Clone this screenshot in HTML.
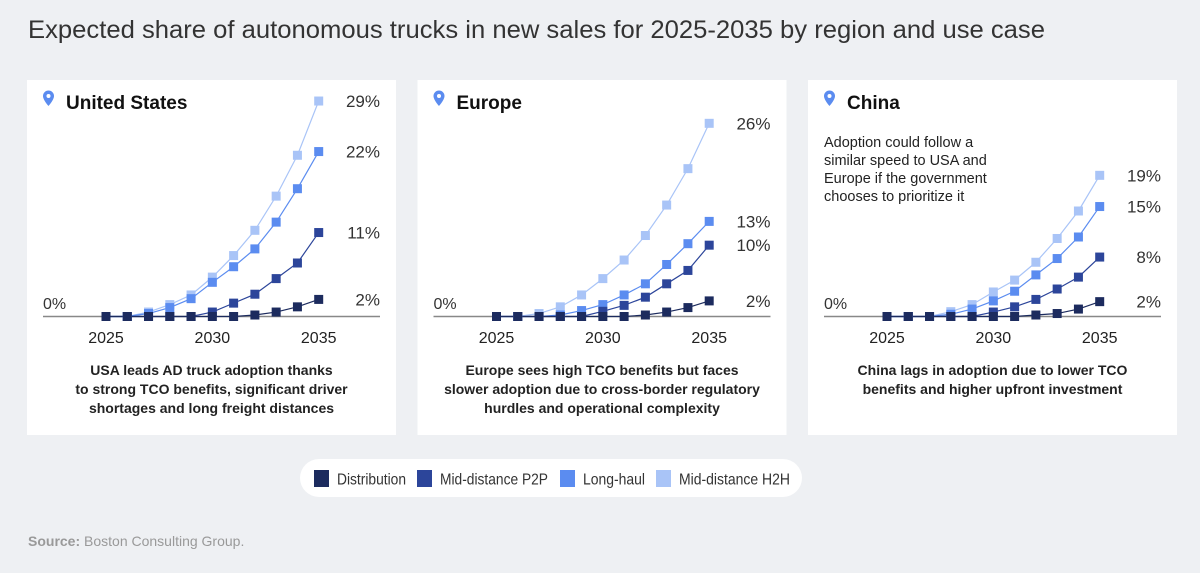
<!DOCTYPE html>
<html><head><meta charset="utf-8">
<style>
body{margin:0;background:#eef0f3;font-family:"Liberation Sans",Arial,sans-serif;}
#wrap{position:relative;width:1200px;height:573px;overflow:hidden;background:#eef0f3;}
svg text{font-family:"Liberation Sans",Arial,sans-serif;}
</style></head>
<body>
<div id="wrap">
<svg id="svg" width="1200" height="573" viewBox="0 0 1200 573" xmlns="http://www.w3.org/2000/svg">
<text x="28" y="38" font-size="25" fill="#333" textLength="1017" lengthAdjust="spacingAndGlyphs">Expected share of autonomous trucks in new sales for 2025-2035 by region and use case</text>
<rect x="300" y="459" width="502" height="38" rx="19" fill="#fff"/>
<g><rect x="314" y="470" width="15" height="17" fill="#1c2b5e"/><text x="337" y="484.5" font-size="16" fill="#333" textLength="69" lengthAdjust="spacingAndGlyphs">Distribution</text></g>
<g><rect x="417" y="470" width="15" height="17" fill="#2c459a"/><text x="440" y="484.5" font-size="16" fill="#333" textLength="108" lengthAdjust="spacingAndGlyphs">Mid-distance P2P</text></g>
<g><rect x="560" y="470" width="15" height="17" fill="#5b8cf0"/><text x="583" y="484.5" font-size="16" fill="#333" textLength="62" lengthAdjust="spacingAndGlyphs">Long-haul</text></g>
<g><rect x="656" y="470" width="15" height="17" fill="#a9c4f7"/><text x="679" y="484.5" font-size="16" fill="#333" textLength="111" lengthAdjust="spacingAndGlyphs">Mid-distance H2H</text></g>
<text x="28" y="546" font-size="14" fill="#999"><tspan font-weight="bold">Source:</tspan> Boston Consulting Group.</text>
</svg>
</div>
<script>
const years=[2025,2026,2027,2028,2029,2030,2031,2032,2033,2034,2035];
const seriesNames=["Distribution","Mid-distance P2P","Long-haul","Mid-distance H2H"];
const regions=["United States","Europe","China"];
const usDist=[0,0,0,0,0,0,0,0.2,0.6,1.3,2.3];
const usP2P=[0,0,0,0,0,0.6,1.8,3.0,5.1,7.2,11.3];
const usLH=[0,0,0.4,1.2,2.4,4.6,6.7,9.1,12.7,17.2,22.2];
const usH2H=[0,0,0.6,1.6,2.9,5.3,8.2,11.6,16.2,21.7,29];
const euDist=[0,0,0,0,0,0,0,0.2,0.6,1.2,2.1];
const euP2P=[0,0,0,0,0,0.7,1.5,2.6,4.4,6.2,9.6];
const euLH=[0,0,0,0.2,0.8,1.6,2.9,4.4,7.0,9.8,12.8];
const euH2H=[0,0,0.4,1.3,2.9,5.1,7.6,10.9,15,19.9,26];
const cnDist=[0,0,0,0,0,0,0,0.2,0.4,1.0,2.0];
const cnP2P=[0,0,0,0,0,0.6,1.3,2.3,3.7,5.3,8];
const cnLH=[0,0,0,0.3,1.0,2.1,3.4,5.6,7.8,10.7,14.8];
const cnH2H=[0,0,0,0.65,1.6,3.3,4.9,7.3,10.5,14.2,19];
const endLabels=[["2%","11%","22%","29%"],["2%","10%","13%","26%"],["2%","8%","15%","19%"]];
const descs=[["USA leads AD truck adoption thanks","to strong TCO benefits, significant driver","shortages and long freight distances"],
["Europe sees high TCO benefits but faces","slower adoption due to cross-border regulatory","hurdles and operational complexity"],
["China lags in adoption due to lower TCO","benefits and higher upfront investment"]];
const data=[[usDist,usP2P,usLH,usH2H],[euDist,euP2P,euLH,euH2H],[cnDist,cnP2P,cnLH,cnH2H]];
const colors=["#1c2b5e","#2c459a","#5b8cf0","#a9c4f7"];
const NS="http://www.w3.org/2000/svg";
const svg=document.getElementById('svg');
function mk(tag,attrs,parent){const e=document.createElementNS(NS,tag);for(const k in attrs)e.setAttribute(k,attrs[k]);(parent||svg).appendChild(e);return e;}
const base=316.5, pxPer=7.43;
function yS(v){return base-v*pxPer;}
regions.forEach((r,i)=>{
  const off=i*390.5;
  const xS=y=>106+off+(y-2025)*21.27;
  const g=mk('g',{});
  
  
  mk('rect',{x:27+off,y:80,width:369,height:355,fill:'#fff'},g);
  const pin=mk('path',{d:`M${46+off} ${97}a5.5 5.5 0 0 1 11 0c0 4-5.5 10-5.5 10s-5.5-6-5.5-10z`,fill:'#5b8cf0',transform:'translate(-3,-1)'},g);
  
  
  mk('circle',{cx:48.5+off,cy:96,r:2,fill:'#fff'},g);
  const t=mk('text',{x:66+off,y:109,'font-size':19,'font-weight':'bold',fill:'#111'},g);t.textContent=r;
  
  
  const ax=mk('line',{x1:43+off,x2:380+off,y1:base,y2:base,stroke:'#888','stroke-width':1.5},g);
  
  
  const z=mk('text',{x:43+off,y:309,'font-size':16,fill:'#333'},g);z.textContent='0%';
  [2025,2030,2035].forEach(y=>{const tt=mk('text',{x:xS(y),y:343,'font-size':16,fill:'#222','text-anchor':'middle'},g);tt.textContent=y;
    
    });
  for(let s=3;s>=0;s--){
    const vals=data[i][s];
    const pts=vals.map((v,k)=>xS(years[k])+','+yS(v)).join(' ');
    const l=mk('polyline',{points:pts,fill:'none',stroke:colors[s],'stroke-width':1.2},g);
    
    
  }
  for(let s=3;s>=0;s--){
    const vals=data[i][s];
    vals.forEach((v,k)=>{
      const m=mk('rect',{x:xS(years[k])-4.5,y:yS(v)-4.5,width:9,height:9,fill:colors[s]},g);
      
      
    });
    const lb=mk('text',{x:380+off,y:yS(vals[10])+6,'font-size':17,fill:'#333','text-anchor':'end'},g);
    lb.textContent=endLabels[i][s];
    
    
  }
  descs[i].forEach((d,k)=>{const dt=mk('text',{x:211.5+off,y:375+k*19,'font-size':14,'font-weight':'bold',fill:'#222','text-anchor':'middle'},g);dt.textContent=d;
    
    });
});
["Adoption could follow a","similar speed to USA and","Europe if the government","chooses to prioritize it"].forEach((s,k)=>{
  const n=mk('text',{x:824,y:147+k*18,'font-size':14.5,fill:'#222'});n.textContent=s;
  
  
});
</script>
</body></html>
